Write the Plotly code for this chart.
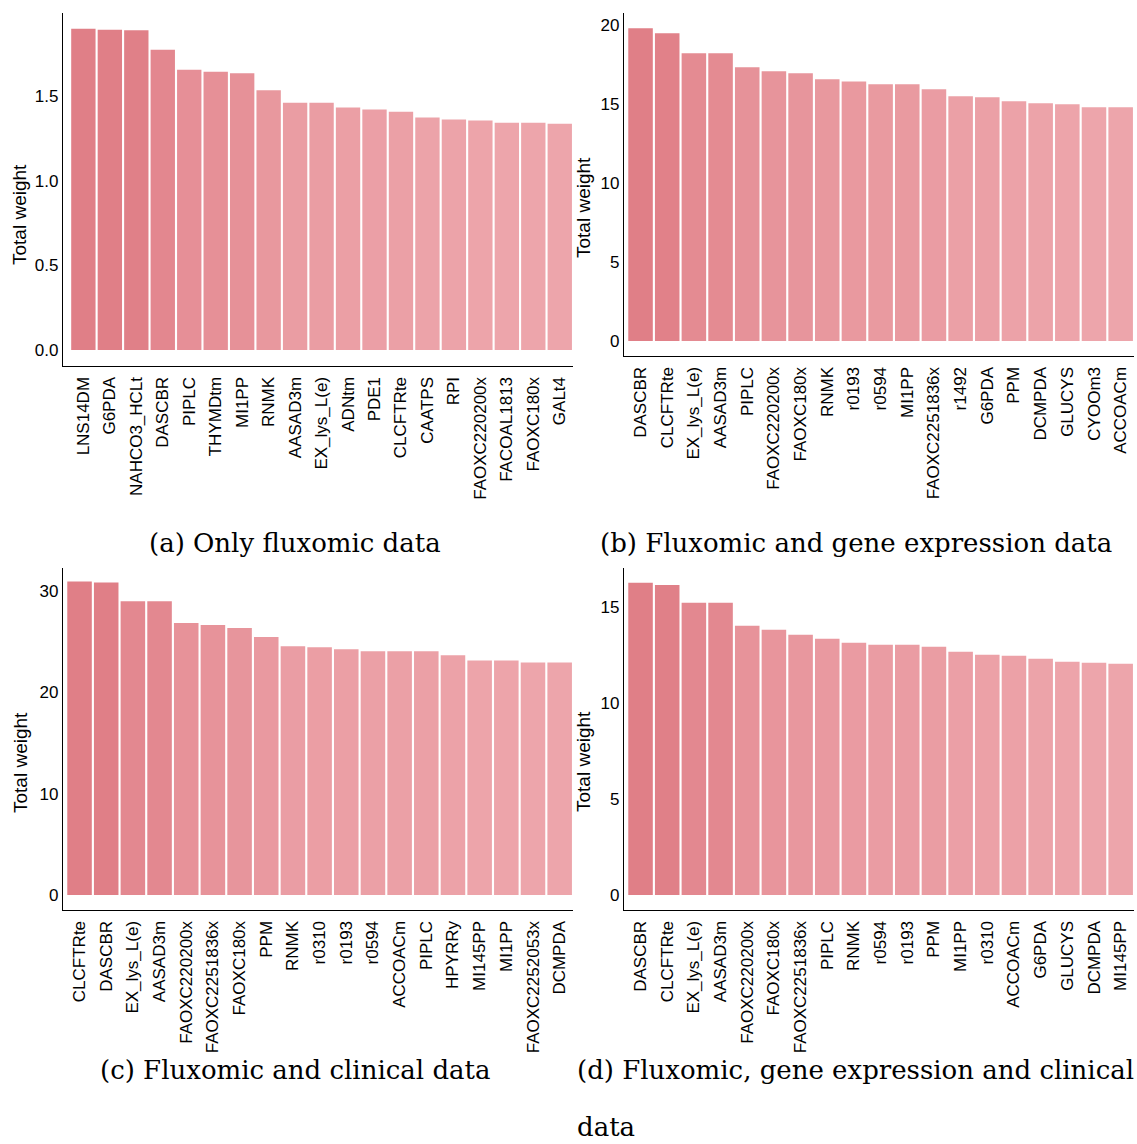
import plotly.graph_objects as go

W, H = 1137, 1144

# ---------------- data ----------------
cats_a = ["LNS14DM", "G6PDA", "NAHCO3_HCLt", "DASCBR", "PIPLC", "THYMDtm", "MI1PP", "RNMK",
          "AASAD3m", "EX_lys_L(e)", "ADNtm", "PDE1", "CLCFTRte", "CAATPS", "RPI",
          "FAOXC220200x", "FACOAL1813", "FAOXC180x", "GALt4"]
vals_a = [1.898, 1.892, 1.888, 1.774, 1.656, 1.644, 1.634, 1.534, 1.461, 1.461, 1.432,
          1.420, 1.408, 1.373, 1.361, 1.355, 1.343, 1.343, 1.337]

cats_b = ["DASCBR", "CLCFTRte", "EX_lys_L(e)", "AASAD3m", "PIPLC", "FAOXC220200x", "FAOXC180x",
          "RNMK", "r0193", "r0594", "MI1PP", "FAOXC2251836x", "r1492", "G6PDA", "PPM",
          "DCMPDA", "GLUCYS", "CYOOm3", "ACCOACm"]
vals_b = [19.79, 19.48, 18.21, 18.21, 17.32, 17.07, 16.94, 16.56, 16.43, 16.25, 16.25,
          15.93, 15.49, 15.42, 15.17, 15.04, 14.98, 14.79, 14.79]

cats_c = ["CLCFTRte", "DASCBR", "EX_lys_L(e)", "AASAD3m", "FAOXC220200x", "FAOXC2251836x",
          "FAOXC180x", "PPM", "RNMK", "r0310", "r0193", "r0594", "ACCOACm", "PIPLC", "HPYRRy",
          "MI145PP", "MI1PP", "FAOXC2252053x", "DCMPDA"]
vals_c = [30.95, 30.85, 29.00, 29.00, 26.85, 26.65, 26.35, 25.45, 24.55, 24.45, 24.25,
          24.05, 24.05, 24.05, 23.65, 23.15, 23.15, 22.95, 22.95]

cats_d = ["DASCBR", "CLCFTRte", "EX_lys_L(e)", "AASAD3m", "FAOXC220200x", "FAOXC180x",
          "FAOXC2251836x", "PIPLC", "RNMK", "r0594", "r0193", "PPM", "MI1PP", "r0310",
          "ACCOACm", "G6PDA", "GLUCYS", "DCMPDA", "MI145PP"]
vals_d = [16.26, 16.15, 15.22, 15.22, 14.02, 13.81, 13.55, 13.34, 13.14, 13.03, 13.03,
          12.93, 12.67, 12.51, 12.46, 12.31, 12.15, 12.10, 12.05]

y_title = "Total weight"
captions = ["(a) Only fluxomic data", "(b) Fluxomic and gene expression data",
            "(c) Fluxomic and clinical data", "(d) Fluxomic, gene expression and clinical", "data"]

# ---------------- layout helpers ----------------
def px_x(x):
    return x / W

def px_y(y):
    return 1 - y / H

COLORSCALE = [[0, "#EDA5AB"], [1, "#E07F87"]]

panels = [
    dict(c=cats_a, v=vals_a, xl=63, xr=573, yt=13, yb=366, yr=[-0.0945, 1.9906],
         tv=[0, 0.5, 1.0, 1.5], tt=["0.0", "0.5", "1.0", "1.5"], xrng=[-0.77, 18.5]),
    dict(c=cats_b, v=vals_b, xl=624, xr=1134, yt=13, yb=356, yr=[-0.95, 20.76],
         tv=[0, 5, 10, 15, 20], tt=["0", "5", "10", "15", "20"], xrng=[-0.62, 18.5]),
    dict(c=cats_c, v=vals_c, xl=63, xr=573, yt=568, yb=910, yr=[-1.48, 32.27],
         tv=[0, 10, 20, 30], tt=["0", "10", "20", "30"], xrng=[-0.62, 18.5]),
    dict(c=cats_d, v=vals_d, xl=624, xr=1134, yt=568, yb=910, yr=[-0.78, 17.03],
         tv=[0, 5, 10, 15], tt=["0", "5", "10", "15"], xrng=[-0.62, 18.5]),
]

fig = go.Figure()
tick_font = dict(family="Liberation Sans, Arial, sans-serif", size=17, color="black")
title_font = dict(family="Liberation Sans, Arial, sans-serif", size=19, color="black")

for i, p in enumerate(panels):
    n = "" if i == 0 else str(i + 1)
    fig.add_trace(go.Bar(
        x=p["c"], y=p["v"], xaxis="x" + n, yaxis="y" + n,
        marker=dict(color=p["v"], colorscale=COLORSCALE,
                    cmin=min(p["v"]), cmax=max(p["v"]), line=dict(width=0)),
        showlegend=False, hoverinfo="x+y",
    ))
    fig.layout["xaxis" + n] = dict(
        domain=[px_x(p["xl"]), px_x(p["xr"])], anchor="y" + n,
        type="category", range=p["xrng"], tickangle=-90,
        showline=True, linecolor="black", linewidth=1.3, ticks="", ticklen=0,
        showgrid=False, zeroline=False, tickfont=tick_font, fixedrange=True,
        ticklabelstandoff=3,
    )
    fig.layout["yaxis" + n] = dict(
        domain=[px_y(p["yb"]), px_y(p["yt"])], anchor="x" + n,
        range=p["yr"], tickvals=p["tv"], ticktext=p["tt"],
        showline=True, linecolor="black", linewidth=1.3, ticks="", ticklen=0,
        showgrid=False, zeroline=False, tickfont=tick_font, fixedrange=True,
        ticklabelstandoff=0,
    )

ann = []
for (x, y) in [(20, 215), (583, 208), (20, 763), (583, 762)]:
    ann.append(dict(text=y_title, x=px_x(x), y=px_y(y), xref="paper", yref="paper",
                    showarrow=False, textangle=-90, xanchor="center", yanchor="middle",
                    font=title_font))

cap_font = dict(family="DejaVu Serif, serif", size=26, color="black")
ann.append(dict(text=captions[0], x=px_x(295), y=px_y(543), xref="paper", yref="paper",
                showarrow=False, xanchor="center", yanchor="middle", font=cap_font))
ann.append(dict(text=captions[1], x=px_x(856), y=px_y(543), xref="paper", yref="paper",
                showarrow=False, xanchor="center", yanchor="middle", font=cap_font))
ann.append(dict(text=captions[2], x=px_x(295), y=px_y(1070), xref="paper", yref="paper",
                showarrow=False, xanchor="center", yanchor="middle", font=cap_font))
ann.append(dict(text=captions[3], x=px_x(575), y=px_y(1070), xref="paper", yref="paper",
                showarrow=False, xanchor="left", yanchor="middle", font=cap_font))
ann.append(dict(text=captions[4], x=px_x(575), y=px_y(1127), xref="paper", yref="paper",
                showarrow=False, xanchor="left", yanchor="middle", font=cap_font))

fig.update_layout(
    width=W, height=H, margin=dict(l=0, r=0, t=0, b=0),
    paper_bgcolor="white", plot_bgcolor="white",
    bargap=0.08, annotations=ann,
)

fig.write_html("out.html", config={"displayModeBar": False},
               post_script="document.body.style.margin='0';document.body.style.overflow='hidden';")
